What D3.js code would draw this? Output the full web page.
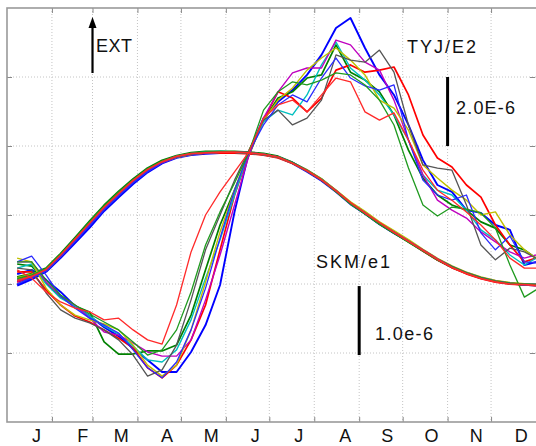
<!DOCTYPE html>
<html><head><meta charset="utf-8">
<script src="https://cdn.jsdelivr.net/npm/d3@7"></script>
<style>html,body{margin:0;padding:0;background:#fff;}svg{display:block;}</style>
</head><body><svg id="c" width="536" height="446"></svg>
<script>
// ---- data ----
const days = [7,17,27,37,47,57,67,77,87,97,107,117,127,137,147,157,167,177,187,197,207,217,227,237,247,257,267,277,287,297,307,317,327,337,347,357,365];
const monthStarts = [0,31,59,90,120,151,181,212,243,273,304,334,365];
const monthLabels = ["J","F","M","A","M","J","J","A","S","O","N","D"];
const monthLabelDays = [20,52,78.5,110,140.5,171,201,233,262,292.5,323.5,354.5];
const seriesNames = ["b","g","r","c","m","y","k","b2","g2","r2"];
const seriesColors = ["#0000ff","#008000","#ff0000","#00bfbf","#bf00bf","#bfbf00","#555555","#2a2aff","#1f9a1f","#ff2a2a"];
const seriesWidths = [1.9,1.7,1.7,1.4,1.4,1.4,1.3,1.3,1.3,1.3];

// TYJ/E2 (units 1e-6)
const tyjB  = [4.29,4.41,4.12,3.77,3.36,3.07,2.75,2.49,2.14,1.80,1.45,1.45,2.03,2.81,3.97,6.09,7.83,8.81,9.28,9.62,10.06,10.64,11.42,11.71,10.84,10.06,9.48,8.61,7.59,6.87,6.67,6.14,6.06,5.71,5.57,4.55,4.64];
const tyjG  = [4.58,4.52,4.03,3.62,3.36,3.19,2.32,1.97,1.97,2.06,2.06,2.23,3.10,4.41,5.71,6.72,7.74,8.75,9.39,9.57,9.97,10.06,10.93,10.14,9.91,9.57,8.90,7.88,7.07,6.58,6.29,6.14,5.80,5.62,5.13,4.99,4.75];
const tyjR  = [4.35,4.35,3.83,3.39,3.07,2.90,2.67,2.43,2.14,1.57,1.28,1.65,2.38,3.39,4.99,6.58,7.80,8.75,9.57,9.39,8.99,9.39,10.20,10.35,10.14,10.20,10.29,9.48,8.32,7.65,7.39,6.87,6.52,5.71,5.13,4.64,4.75];
const tyjC  = [4.46,4.58,4.00,3.59,3.36,3.07,2.78,2.55,2.20,1.80,1.74,2.09,2.96,4.17,5.28,6.58,7.83,8.70,9.04,8.90,9.48,10.35,11.01,10.26,9.91,9.48,8.90,8.17,7.16,6.72,6.58,6.14,5.57,5.28,4.84,4.55,4.75];
const tyjM  = [4.64,4.64,4.06,3.65,3.39,3.01,2.61,2.52,2.29,2.03,1.91,1.91,2.38,3.54,4.84,6.29,7.74,8.81,9.57,10.12,10.26,10.26,11.07,10.93,10.43,10.20,9.33,8.17,7.16,6.43,6.14,5.91,5.51,5.22,4.93,4.75,4.84];
const tyjY  = [4.75,4.64,3.88,3.39,3.10,2.96,2.84,2.67,2.23,1.65,1.33,1.65,2.67,4.06,5.51,6.72,7.88,8.75,9.33,9.68,10.20,10.55,10.84,10.49,10.06,9.33,9.10,8.46,7.45,7.07,6.72,6.43,6.00,6.09,5.42,4.99,4.75];
const tyjK  = [4.46,4.41,3.74,3.25,3.01,2.87,2.67,2.38,1.94,1.33,1.51,2.23,3.54,4.99,6.00,7.01,7.88,8.75,9.04,8.61,8.81,9.33,10.64,10.49,10.43,10.78,10.14,8.61,7.45,7.36,7.30,6.29,5.13,4.70,5.04,4.93,4.75];
const tyjB2 = [4.64,4.81,4.26,3.65,3.30,3.01,2.81,2.58,2.09,1.57,1.28,1.74,2.67,3.88,5.33,6.72,7.83,8.61,9.19,9.48,9.28,9.97,10.55,9.97,9.74,9.62,9.77,8.17,7.01,6.58,6.43,6.58,5.48,4.99,5.39,4.64,4.61];
const tyjG2 = [4.64,4.64,4.12,3.68,3.39,3.13,2.90,2.67,2.32,1.94,2.09,2.67,3.77,5.13,6.09,6.93,7.83,9.04,9.57,9.86,9.77,9.91,10.12,10.06,9.77,9.33,8.61,7.36,6.29,5.97,6.23,6.17,6.06,5.62,4.55,3.62,3.83];
const tyjR2 = [4.41,4.17,3.77,3.48,3.30,3.19,2.96,3.01,2.67,2.38,2.26,3.39,4.93,6.00,6.67,7.25,7.83,8.81,9.19,9.33,8.99,9.48,9.97,9.86,8.99,8.75,8.96,8.17,7.30,6.72,6.43,6.09,5.71,5.28,4.75,4.46,4.46];

// SKM/e1 (units 1e-6)
const skmB  = [1.98,2.07,2.18,2.38,2.60,2.82,3.06,3.26,3.45,3.62,3.75,3.83,3.87,3.89,3.90,3.91,3.90,3.88,3.84,3.75,3.63,3.50,3.34,3.16,3.02,2.87,2.74,2.62,2.49,2.36,2.25,2.16,2.09,2.04,2.01,1.99,1.98];
const skmG  = [2.10,2.15,2.23,2.44,2.67,2.91,3.14,3.34,3.52,3.68,3.79,3.86,3.90,3.92,3.92,3.92,3.91,3.89,3.85,3.76,3.65,3.52,3.35,3.17,3.02,2.87,2.74,2.61,2.48,2.35,2.24,2.16,2.09,2.04,2.01,1.99,1.99];
const skmR  = [2.03,2.10,2.20,2.41,2.64,2.87,3.10,3.31,3.49,3.65,3.77,3.84,3.88,3.90,3.90,3.90,3.89,3.87,3.83,3.75,3.64,3.51,3.35,3.17,3.03,2.88,2.75,2.62,2.48,2.35,2.24,2.15,2.08,2.03,2.00,1.99,1.98];
const skmC  = [2.06,2.12,2.20,2.41,2.63,2.86,3.09,3.29,3.48,3.65,3.77,3.85,3.89,3.91,3.92,3.91,3.90,3.88,3.84,3.75,3.64,3.51,3.35,3.17,3.03,2.88,2.75,2.62,2.49,2.36,2.25,2.16,2.09,2.04,2.01,1.99,1.99];
const skmM  = [2.04,2.11,2.20,2.40,2.63,2.86,3.09,3.30,3.48,3.64,3.76,3.84,3.88,3.90,3.91,3.91,3.90,3.88,3.84,3.75,3.64,3.51,3.35,3.17,3.03,2.88,2.75,2.62,2.49,2.36,2.25,2.16,2.09,2.04,2.01,1.99,1.99];
const skmY  = [2.09,2.14,2.21,2.42,2.64,2.87,3.10,3.30,3.49,3.65,3.77,3.84,3.88,3.90,3.91,3.91,3.90,3.88,3.84,3.75,3.65,3.52,3.36,3.19,3.05,2.90,2.77,2.64,2.50,2.37,2.26,2.17,2.10,2.05,2.02,2.00,1.99];
const skmK  = [2.05,2.11,2.20,2.41,2.64,2.87,3.10,3.30,3.49,3.65,3.77,3.84,3.88,3.90,3.91,3.91,3.90,3.88,3.84,3.75,3.64,3.51,3.35,3.17,3.03,2.88,2.75,2.62,2.49,2.36,2.25,2.16,2.09,2.04,2.01,1.99,1.99];
const skmB2 = [2.00,2.09,2.19,2.40,2.62,2.85,3.08,3.28,3.47,3.63,3.76,3.84,3.88,3.90,3.91,3.91,3.90,3.88,3.84,3.76,3.64,3.51,3.35,3.17,3.03,2.88,2.75,2.62,2.49,2.36,2.25,2.16,2.09,2.04,2.01,1.99,1.99];
const skmG2 = [2.08,2.13,2.22,2.43,2.66,2.90,3.13,3.33,3.51,3.67,3.78,3.85,3.89,3.91,3.92,3.91,3.90,3.88,3.84,3.76,3.64,3.51,3.34,3.16,3.02,2.87,2.74,2.61,2.48,2.35,2.25,2.16,2.09,2.04,2.01,2.00,1.99];
const skmR2 = [2.05,2.11,2.21,2.42,2.65,2.88,3.11,3.31,3.50,3.66,3.77,3.85,3.89,3.90,3.91,3.91,3.90,3.88,3.84,3.75,3.64,3.51,3.35,3.18,3.03,2.89,2.75,2.62,2.49,2.36,2.24,2.15,2.08,2.03,2.00,1.99,1.98];

const tyjSeries = [tyjB,tyjG,tyjR,tyjC,tyjM,tyjY,tyjK,tyjB2,tyjG2,tyjR2];
const skmSeries = [skmB,skmG,skmR,skmC,skmM,skmY,skmK,skmB2,skmG2,skmR2];

// ---- layout ----
const svg = d3.select("#c");
const x = d3.scaleLinear().domain([0,365]).range([7,536]);
const yT = d3.scaleLinear().domain([0,12]).range([422,8]);   // TYJ: 2.0E-6 per grid
const yS = d3.scaleLinear().domain([0,6]).range([422,8]);    // SKM: 1.0e-6 per grid
const gridY = [1,2,3,4,5];
const font = "'Liberation Sans', Arial, sans-serif";

// grid
svg.append("g").selectAll("line").data(monthStarts.slice(1,12)).join("line")
  .attr("x1",d=>x(d)).attr("x2",d=>x(d)).attr("y1",yS(6)).attr("y2",yS(0))
  .attr("stroke","#c4c4c4").attr("stroke-width",1).attr("stroke-dasharray","1,2");
svg.append("g").selectAll("line").data(gridY).join("line")
  .attr("x1",x(0)).attr("x2",x(365)).attr("y1",d=>yS(d)).attr("y2",d=>yS(d))
  .attr("stroke","#c4c4c4").attr("stroke-width",1).attr("stroke-dasharray","1,2");

// axes ticks (inward)
svg.append("g").attr("transform",`translate(0,${yS(0)})`)
  .call(d3.axisBottom(x).tickValues(monthStarts.slice(1,12)).tickSize(-5).tickFormat(""))
  .call(g=>{g.select(".domain").remove(); g.selectAll("line").attr("stroke","#888");});
svg.append("g").attr("transform",`translate(0,${yS(6)})`)
  .call(d3.axisTop(x).tickValues(monthStarts.slice(1,12)).tickSize(-5).tickFormat(""))
  .call(g=>{g.select(".domain").remove(); g.selectAll("line").attr("stroke","#888");});
svg.append("g").attr("transform",`translate(${x(0)},0)`)
  .call(d3.axisLeft(yS).tickValues(gridY).tickSize(-5).tickFormat(""))
  .call(g=>{g.select(".domain").remove(); g.selectAll("line").attr("stroke","#888");});
svg.append("g").attr("transform",`translate(${x(365)-1},0)`)
  .call(d3.axisRight(yS).tickValues(gridY).tickSize(-5).tickFormat(""))
  .call(g=>{g.select(".domain").remove(); g.selectAll("line").attr("stroke","#888");});

// frame
svg.append("rect").attr("x",x(0)).attr("y",yS(6)).attr("width",x(365)-x(0)+10).attr("height",yS(0)-yS(6))
  .attr("fill","none").attr("stroke","#9a9a9a").attr("stroke-width",1.6);

// month labels
svg.append("g").attr("transform",`translate(0,${yS(0)})`)
  .call(d3.axisBottom(x).tickValues(monthLabelDays).tickSize(0).tickPadding(7).tickFormat((d,i)=>monthLabels[i]))
  .call(g=>{g.select(".domain").remove();
    g.selectAll("text").attr("font-family",font).attr("font-size",18).attr("fill","#111").attr("dy","0.71em");});

// series
const lineT = d3.line().x((d,i)=>x(days[i])).y(d=>yT(d)).curve(d3.curveLinear);
const lineS = d3.line().x((d,i)=>x(days[i])).y(d=>yS(d)).curve(d3.curveLinear);
const plot = svg.append("g");
seriesNames.forEach((n,i)=>{
  plot.append("path").attr("d",lineT(tyjSeries[i])).attr("fill","none")
    .attr("stroke",seriesColors[i]).attr("stroke-width",seriesWidths[i]).attr("stroke-linejoin","round");
  plot.append("path").attr("d",lineS(skmSeries[i])).attr("fill","none")
    .attr("stroke",seriesColors[i]).attr("stroke-width",seriesWidths[i]+0.4).attr("stroke-linejoin","round");
});

// annotations
const arrowX = x(59);
svg.append("line").attr("x1",arrowX).attr("x2",arrowX).attr("y1",73).attr("y2",26)
  .attr("stroke","#000").attr("stroke-width",2.2);
svg.append("path").attr("d",`M${arrowX-4},28 L${arrowX},17 L${arrowX+4},28 Z`).attr("fill","#000");
svg.append("text").attr("x",96).attr("y",52).text("EXT")
  .attr("font-family",font).attr("font-size",18).attr("fill","#111").attr("textLength",36);

svg.append("text").attr("x",407).attr("y",53).text("TYJ/E2")
  .attr("font-family",font).attr("font-size",18).attr("fill","#111").attr("textLength",69).attr("lengthAdjust","spacing");
svg.append("line").attr("x1",x(304)).attr("x2",x(304)).attr("y1",yT(10)).attr("y2",yT(8))
  .attr("stroke","#000").attr("stroke-width",3);
svg.append("text").attr("x",456).attr("y",114).text("2.0E-6")
  .attr("font-family",font).attr("font-size",18).attr("fill","#111").attr("textLength",59).attr("lengthAdjust","spacing");

svg.append("text").attr("x",316).attr("y",268).text("SKM/e1")
  .attr("font-family",font).attr("font-size",18).attr("fill","#111").attr("textLength",74).attr("lengthAdjust","spacing");
svg.append("line").attr("x1",x(243)).attr("x2",x(243)).attr("y1",yS(1.97)).attr("y2",yS(0.97))
  .attr("stroke","#000").attr("stroke-width",3);
svg.append("text").attr("x",375).attr("y",340).text("1.0e-6")
  .attr("font-family",font).attr("font-size",18).attr("fill","#111").attr("textLength",58).attr("lengthAdjust","spacing");
</script></body></html>
